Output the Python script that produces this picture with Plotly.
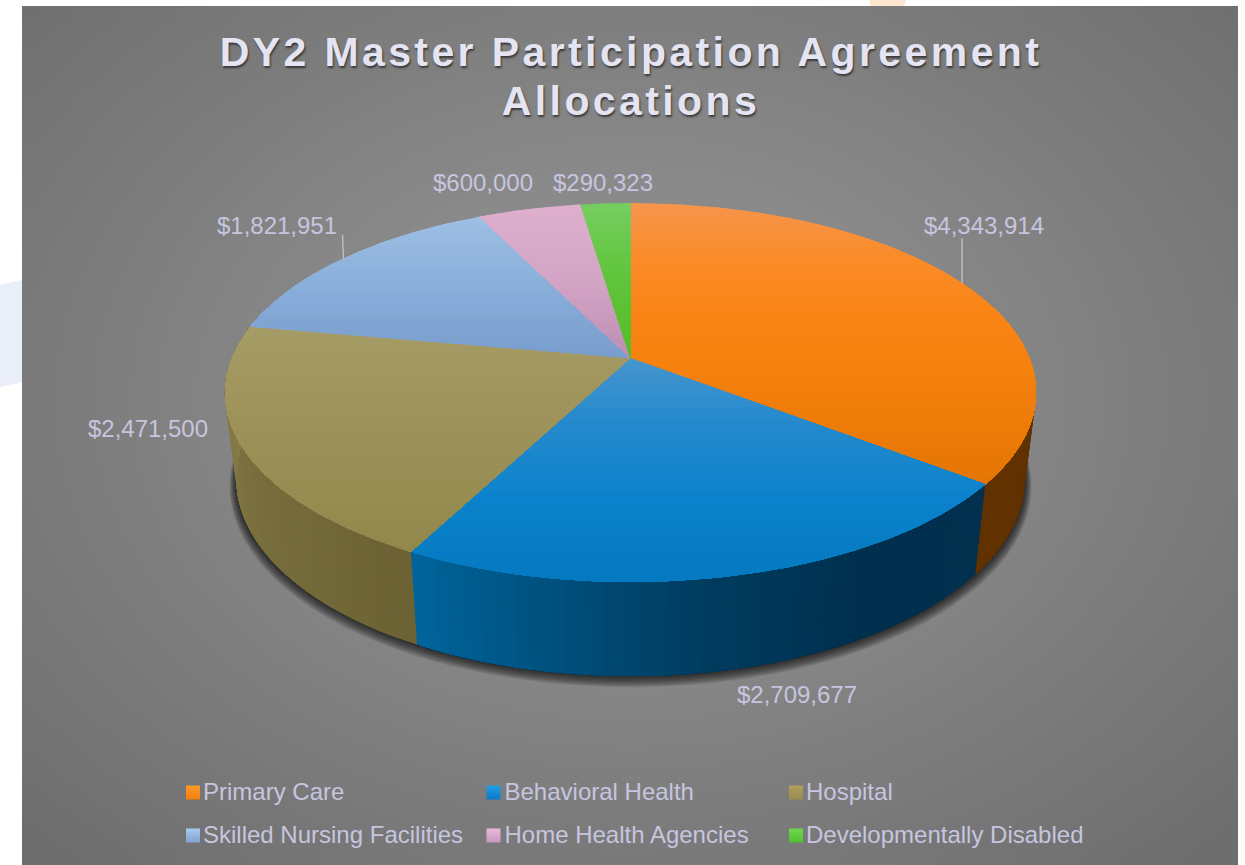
import numpy as np
import plotly.graph_objects as go

# ---------- data ----------
categories = ["Primary Care", "Behavioral Health", "Hospital",
              "Skilled Nursing Facilities", "Home Health Agencies", "Developmentally Disabled"]
values = [4343914, 2709677, 2471500, 1821951, 600000, 290323]
title_text = "DY2 Master Participation Agreement<br>Allocations"

# ---------- style ----------
top_stops = [
    [(203, (247, 150, 78)), (255, (250, 140, 42)), (320, (251, 133, 20)), (400, (241, 126, 10)), (487, (228, 118, 5))],
    [(358, (70, 150, 205)), (420, (38, 138, 205)), (500, (12, 130, 204)), (582, (5, 122, 192))],
    [(325, (166, 156, 102)), (420, (158, 147, 90)), (555, (146, 135, 76))],
    [(215, (158, 192, 228)), (280, (140, 176, 220)), (355, (122, 158, 205))],
    [(204, (222, 176, 206)), (280, (212, 165, 198)), (358, (188, 142, 178))],
    [(203, (118, 206, 96)), (270, (98, 198, 62)), (358, (84, 188, 38))],
]
wall_stops = [
    [(85, (96, 52, 2)), (127.8, (98, 50, 0))],
    [(127.8, (3, 48, 78)), (150, (0, 48, 78)), (170, (0, 60, 95)), (190, (0, 82, 128)), (207.6, (0, 102, 158))],
    [(207.6, (108, 98, 52)), (240, (122, 112, 62)), (285, (142, 132, 78))],
]
swatches = [("#fb9a2c", "#f57f0c"), ("#20a0e8", "#0c78c4"), ("#b0a060", "#978c50"),
            ("#a8caf0", "#80a4d0"), ("#eab8d8", "#c898c0"), ("#70d850", "#50c030")]
LABEL = "#c7c5df"
FONT = "Liberation Sans"

# ---------- projection of the tilted disc ----------
CX, CY, PERSP, A, B = 630.5, 358.0, 0.182, 398.8, 183.2
SCALE_BOTTOM_X, SCALE_BOTTOM_Y, CY_BOTTOM = 0.972, 1.042, 442.7


def top_xy(deg):
    t = np.radians(np.asarray(deg, float))
    w = 1 + PERSP * np.cos(t)
    return CX + A * np.sin(t) / w, CY - B * np.cos(t) / w


def bottom_xy(deg, grow=0.0, dy=0.0):
    x, y = top_xy(deg)
    return (CX + (x - CX) * SCALE_BOTTOM_X * (1 + grow),
            CY_BOTTOM + dy + (y - CY) * SCALE_BOTTOM_Y * (1 + grow))


def lerp_stops(stops, v):
    keys = [s[0] for s in stops]
    return "rgb(%d,%d,%d)" % tuple(np.interp(v, keys, [s[1][c] for s in stops]) for c in range(3))


def clip_below(px, py, y0):
    ox, oy = [], []
    n = len(px)
    for i in range(n):
        x1, y1, x2, y2 = px[i], py[i], px[(i + 1) % n], py[(i + 1) % n]
        if y1 >= y0:
            ox.append(x1); oy.append(y1)
        if (y1 >= y0) != (y2 >= y0):
            f = (y0 - y1) / (y2 - y1)
            ox.append(x1 + f * (x2 - x1)); oy.append(y0)
    return ox, oy


def poly(px, py, color):
    return go.Scatter(x=list(px), y=list(py), mode="lines", fill="toself", fillcolor=color,
                      line=dict(width=0), hoverinfo="skip", showlegend=False)


total = sum(values)
edges = np.concatenate([[0], np.cumsum(values)]) / total * 360.0
mids = (edges[:-1] + edges[1:]) / 2

fig = go.Figure()

# background gradient
gx = np.linspace(22, 1238, 61)
gy = np.linspace(6, 865, 44)
mx, my = np.meshgrid((gx[:-1] + gx[1:]) / 2, (gy[:-1] + gy[1:]) / 2)
glow = np.hypot((mx - 630) / 760, (my - 400) / 560)
fig.add_trace(go.Heatmap(x=gx, y=gy, z=np.clip(glow, 0, 1.1), zsmooth="best", showscale=False, hoverinfo="skip",
                         zmin=0, zmax=1.1, colorscale=[[0, "#8f8f8f"], [0.35, "#8a8a8a"], [1, "#6e6e6e"]]))

# shadow under the disc
ring = np.linspace(0, 360, 241)
for k in range(9, 0, -1):
    sx, sy = bottom_xy(ring, grow=0.0019 * k, dy=0.8 * k)
    fig.add_trace(poly(sx, sy, "rgba(0,0,0,0.10)"))

# side wall
for i, stops in enumerate(wall_stops):
    a, b = max(edges[i], 85.0), min(edges[i + 1], 285.0)
    for t in np.arange(a, b, 1.5):
        arc = np.linspace(t, b, 40)
        tx, ty = top_xy(arc)
        bx, by = bottom_xy(arc[::-1])
        fig.add_trace(poly(np.r_[tx, bx], np.r_[ty, by], lerp_stops(stops, t)))

# top surface
for i, stops in enumerate(top_stops):
    arc = np.linspace(edges[i], edges[i + 1], 120)
    ax, ay = top_xy(arc)
    px = np.r_[CX, ax]
    py = np.r_[CY, ay]
    y0 = py.min() - 1
    while y0 < py.max():
        cx, cy = clip_below(list(px), list(py), y0)
        if len(cx) > 2:
            fig.add_trace(poly(cx, cy, lerp_stops(stops, y0 + 2)))
        y0 += 5

# leader lines, from the rim at the slice middle
for i, length in ((0, 45), (3, 24)):
    x0, y0 = top_xy(mids[i])
    fig.add_trace(go.Scatter(x=[x0, x0 - (1 if i == 3 else 0)], y=[y0, y0 - length], mode="lines",
                             line=dict(color="#c4c4c8", width=1.3), hoverinfo="skip", showlegend=False))

# data labels
label_xy = [(984, 228), (797, 697), (148, 431), (277, 228), (483, 185), (603, 185)]
fig.add_trace(go.Scatter(x=[p[0] for p in label_xy], y=[p[1] for p in label_xy], mode="text",
                         text=[f"${v:,}" for v in values], textposition="middle center",
                         textfont=dict(family=FONT, size=24, color=LABEL), hoverinfo="skip", showlegend=False))

# legend entries
legend_x = [193, 493.5, 796]
legend_text_x = [203, 504.5, 806]
legend_y = [792.5, 835.5]
for i, name in enumerate(categories):
    col, row = i % 3, i // 3
    fig.add_trace(go.Scatter(x=[legend_x[col]], y=[legend_y[row]], mode="markers", name=name, hoverinfo="name",
                             showlegend=False,
                             marker=dict(symbol="square", size=14, color=swatches[i][0],
                                         gradient=dict(type="vertical", color=swatches[i][1]))))
    fig.add_trace(go.Scatter(x=[legend_text_x[col]], y=[legend_y[row] + 1.5], mode="text", text=[name],
                             textposition="middle right", hoverinfo="skip", showlegend=False,
                             textfont=dict(family=FONT, size=24, color=LABEL)))

fig.update_layout(
    width=1245, height=865, margin=dict(l=0, r=0, t=0, b=0), autosize=False,
    paper_bgcolor="white", plot_bgcolor="white", hovermode="closest",
    title=dict(text=title_text, x=631 / 1245, xanchor="center", y=0.924, yanchor="top", yref="container",
               font=dict(family=FONT, size=41, color="#e4e4f2", weight="bold",
                         shadow="1px 2px 2px rgba(35,35,35,0.75)")),
    xaxis=dict(range=[0, 1245], visible=False, fixedrange=True),
    yaxis=dict(range=[865, 0], visible=False, fixedrange=True),
    shapes=[
        dict(type="path", path="M0,285 L22,280 L22,382 L0,387 Z", fillcolor="#e9eef8", line_width=0, layer="below"),
        dict(type="path", path="M869,0 L906,0 L904,6 L871,6 Z", fillcolor="#fde5d0", line_width=0, layer="below"),
    ],
)

fig.write_html("out.html", config=dict(displayModeBar=False), post_script="""
document.body.style.margin='0';document.body.style.overflow='hidden';
var s=document.createElement('style');s.textContent='.gtitle{letter-spacing:3.4px}';document.head.appendChild(s);
var lines=document.querySelectorAll('.gtitle tspan.line');
if(lines.length>1){lines[1].setAttribute('dy','1.2em');}
""")
